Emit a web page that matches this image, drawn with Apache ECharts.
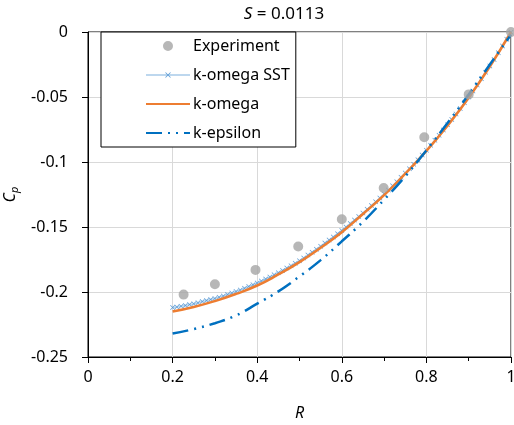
<!DOCTYPE html>
<html>
<head>
<meta charset="utf-8">
<script src="https://cdn.jsdelivr.net/npm/echarts@6/dist/echarts.min.js"></script>
<style>
  html, body { margin: 0; padding: 0; background: #fff; }
  #chart { width: 514px; height: 425px; }
</style>
</head>
<body>
<div id="chart"></div>
<script>
// Measured pressure coefficient
const expR  = [0.226, 0.300, 0.396, 0.497, 0.600, 0.699, 0.795, 0.900, 1.000];
const expCp = [-0.202, -0.194, -0.183, -0.165, -0.144, -0.120, -0.081, -0.048, 0.000];

// k-omega SST profile (dense, with markers)
const sstR = [
  0.20,0.21,0.22,0.23,0.24,0.25,0.26,0.27,0.28,0.29,
  0.30,0.31,0.32,0.33,0.34,0.35,0.36,0.37,0.38,0.39,
  0.40,0.41,0.42,0.43,0.44,0.45,0.46,0.47,0.48,0.49,
  0.50,0.51,0.52,0.53,0.54,0.55,0.56,0.57,0.58,0.59,
  0.60,0.61,0.62,0.63,0.64,0.65,0.66,0.67,0.68,0.69,
  0.70,0.71,0.72,0.73,0.74,0.75,0.76,0.77,0.78,0.79,
  0.80,0.81,0.82,0.83,0.84,0.85,0.86,0.87,0.88,0.89,
  0.90,0.91,0.92,0.93,0.94,0.95,0.96,0.97,0.98,0.99,1.00
];
const sstCp = [
  -0.2120,-0.2115,-0.2109,-0.2103,-0.2097,-0.2090,-0.2082,-0.2074,-0.2066,-0.2058,
  -0.2050,-0.2040,-0.2030,-0.2019,-0.2008,-0.1996,-0.1984,-0.1971,-0.1958,-0.1944,
  -0.1930,-0.1915,-0.1900,-0.1884,-0.1868,-0.1851,-0.1834,-0.1816,-0.1798,-0.1779,
  -0.1759,-0.1738,-0.1716,-0.1694,-0.1671,-0.1648,-0.1624,-0.1600,-0.1576,-0.1551,
  -0.1526,-0.1500,-0.1474,-0.1447,-0.1420,-0.1392,-0.1364,-0.1335,-0.1306,-0.1276,
  -0.1246,-0.1215,-0.1183,-0.1151,-0.1118,-0.1085,-0.1051,-0.1017,-0.0982,-0.0946,
  -0.0910,-0.0872,-0.0833,-0.0794,-0.0754,-0.0714,-0.0673,-0.0631,-0.0588,-0.0544,
  -0.0500,-0.0454,-0.0407,-0.0359,-0.0310,-0.0261,-0.0211,-0.0160,-0.0108,-0.0055,-0.0002
];

// k-omega and k-epsilon profiles
const modelR = [0.20,0.25,0.30,0.35,0.40,0.45,0.50,0.55,0.60,0.65,0.70,0.75,0.80,0.85,0.90,0.95,1.00];
const komegaCp = [-0.2150,-0.2115,-0.2070,-0.2015,-0.1950,-0.1865,-0.1770,-0.1660,-0.1540,-0.1400,
                  -0.1255,-0.1090,-0.0915,-0.0720,-0.0505,-0.0265,0.0000];
const kepsCp   = [-0.2320,-0.2285,-0.2240,-0.2180,-0.2090,-0.1995,-0.1880,-0.1755,-0.1610,-0.1460,
                  -0.1290,-0.1110,-0.0910,-0.0700,-0.0480,-0.0250,-0.0020];

const xTicks = [0, 0.2, 0.4, 0.6, 0.8, 1];
const yTicks = [0, -0.05, -0.1, -0.15, -0.2, -0.25];

const FONT = '"Noto Sans", sans-serif';
const pairs = (xs, ys) => xs.map((x, i) => [x, ys[i]]);
// glyphs are centred in a padded box (tiny corner specks) so the drawn mark stays
// smaller than its symbol box, in the plot and in the legend alike
const crossPath = 'path://M-5,-5L-4.99,-5L-5,-4.99Z M15,15L14.99,15L15,14.99Z ' +
                  'M0,1L1,0L5,4L9,0L10,1L6,5L10,9L9,10L5,6L1,10L0,9L4,5Z';
const dotPath = 'path://M-2,-2L-1.99,-2L-2,-1.99Z M12,12L11.99,12L12,11.99Z ' +
                'M5,0A5,5 0 1,1 5,10A5,5 0 1,1 5,0Z';
const hidden = { color: 'rgba(0,0,0,0)', borderWidth: 0 };

const chart = echarts.init(document.getElementById('chart'), null, { renderer: 'canvas' });

chart.setOption({
  animation: false,
  backgroundColor: '#ffffff',
  textStyle: { fontFamily: FONT },
  grid: {
    left: 88, right: 3, top: 32, bottom: 68,
    containLabel: false, outerBoundsMode: 'none',
    show: true, borderColor: '#000000', borderWidth: 1, backgroundColor: 'transparent'
  },
  graphic: [{
    type: 'text', x: 284, y: 14,
    style: {
      text: '{i|S} = 0.0113',
      rich: { i: { fontStyle: 'italic', fontSize: 17, fontFamily: FONT, fill: '#000' } },
      fontSize: 17, fontFamily: FONT, fill: '#000',
      align: 'center', verticalAlign: 'middle'
    }
  }],
  legend: {
    orient: 'vertical',
    left: 101, top: 32,
    padding: [6, 6, 6, 44],
    itemWidth: 44, itemHeight: 14, itemGap: 13,
    backgroundColor: '#ffffff',
    borderColor: '#000000', borderWidth: 1,
    textStyle: { fontFamily: FONT, fontSize: 16, color: '#000000', padding: [0, 0, 0, -2] },
    data: [
      { name: 'Experiment' },
      { name: 'k-omega SST' },
      { name: 'k-omega', itemStyle: hidden },
      { name: 'k-epsilon', itemStyle: hidden }
    ]
  },
  xAxis: {
    type: 'value', min: 0, max: 1, interval: 0.2,
    name: 'R', nameLocation: 'middle', nameGap: 48,
    nameTextStyle: { fontFamily: FONT, fontSize: 16, fontStyle: 'italic', color: '#000' },
    axisLine: { show: true, onZero: false, lineStyle: { color: '#000', width: 1 } },
    axisTick: { show: true, inside: false, length: 6, lineStyle: { color: '#000' } },
    minorTick: { show: true, splitNumber: 2, length: 4, lineStyle: { color: '#000' } },
    splitLine: { show: true, lineStyle: { color: '#d9d9d9', width: 1 } },
    axisLabel: {
      fontFamily: FONT, fontSize: 16, color: '#000', margin: 12,
      formatter: v => { const t = xTicks.find(k => Math.abs(k - v) < 1e-9); return t === undefined ? '' : String(t); }
    }
  },
  yAxis: {
    type: 'value', min: -0.25, max: 0, interval: 0.05,
    name: '{i|C}{s|p}', nameLocation: 'middle', nameGap: 64, nameRotate: 90,
    nameTextStyle: {
      fontFamily: FONT, color: '#000',
      rich: {
        i: { fontStyle: 'italic', fontSize: 16, fontFamily: FONT, color: '#000' },
        s: { fontStyle: 'italic', fontSize: 11, fontFamily: FONT, color: '#000', padding: [9, 0, 0, 0] }
      }
    },
    axisLine: { show: true, onZero: false, lineStyle: { color: '#000', width: 1 } },
    axisTick: { show: true, inside: false, length: 6, lineStyle: { color: '#000' } },
    splitLine: { show: true, lineStyle: { color: '#d9d9d9', width: 1 } },
    axisLabel: {
      fontFamily: FONT, fontSize: 16, color: '#000', margin: 20,
      formatter: v => { const t = yTicks.find(k => Math.abs(k - v) < 1e-9); return t === undefined ? '' : String(t); }
    }
  },
  series: [
    {
      name: 'Experiment', type: 'scatter', z: 5,
      symbol: dotPath, symbolSize: 14,
      itemStyle: { color: '#a5a5a5' },
      data: pairs(expR, expCp)
    },
    {
      name: 'k-omega SST', type: 'line', z: 2,
      symbol: crossPath, symbolSize: 10, showSymbol: true,
      lineStyle: { color: '#bdd7ee', width: 1.5 },
      itemStyle: { color: '#5b9bd5' },
      data: pairs(sstR, sstCp)
    },
    {
      name: 'k-omega', type: 'line', z: 3,
      symbol: 'none', smooth: true,
      lineStyle: { color: '#ed7d31', width: 2.5 },
      itemStyle: { color: '#ed7d31' },
      data: pairs(modelR, komegaCp)
    },
    {
      name: 'k-epsilon', type: 'line', z: 4,
      symbol: 'none', smooth: true,
      lineStyle: { color: '#0070c0', width: 2.5, type: [16, 6, 2, 6, 2, 6] },
      itemStyle: { color: '#0070c0' },
      data: pairs(modelR, kepsCp)
    }
  ]
});
</script>
</body>
</html>
